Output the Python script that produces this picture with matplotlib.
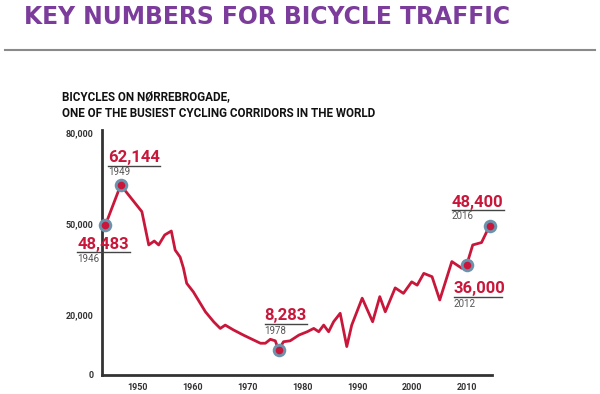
import matplotlib
matplotlib.use("Agg")
import matplotlib.pyplot as plt
import matplotlib.font_manager as fm
from matplotlib.lines import Line2D
from matplotlib.transforms import IdentityTransform

# ---------------- data ----------------
years = [1944.2, 1947.0, 1950.85, 1952.1, 1953.1, 1953.9, 1955.0, 1956.2, 1956.9,
         1957.8, 1958.4, 1959.0, 1960.2, 1961.1, 1962.4, 1963.9, 1965.1, 1966.0,
         1967.5, 1969.3, 1970.9, 1972.4, 1973.3, 1974.2, 1975.1, 1975.7, 1976.6,
         1977.8, 1979.4, 1980.9, 1982.1, 1983.0, 1983.9, 1984.8, 1985.7, 1986.9,
         1988.1, 1989.0, 1990.9, 1992.8, 1994.1, 1995.1, 1996.9, 1998.4, 1999.9,
         2000.9, 2002.1, 2003.6, 2005.0, 2007.2, 2009.0, 2009.9, 2011.0, 2012.6,
         2014.05]
counts = [49500, 62800, 54000, 43000, 44300, 43000, 46300, 47600, 41300,
          39000, 35400, 30300, 27500, 24800, 20900, 17600, 15400, 16500,
          14900, 13200, 11800, 10500, 10500, 11800, 11300, 8300, 11000,
          11300, 13200, 14300, 15400, 14300, 16500, 14300, 17600, 20400,
          9400, 16500, 25400, 17600, 25900, 20900, 28800, 27000, 30800,
          29700, 33600, 32500, 24800, 37500, 35300, 36400, 43000, 43800,
          49300]

# highlighted points: index into the series, value label, year label
hl_index = [0, 1, 25, 51, 54]
hl_value = ["48,483", "62,144", "8,283", "36,000", "48,400"]
hl_year = ["1946", "1949", "1978", "2012", "2016"]

x_ticks = [1950, 1960, 1970, 1980, 1990, 2000, 2010]
x_ticklabels = ["1950", "1960", "1970", "1980", "1990", "2000", "2010"]
y_ticks = [0, 20000, 50000, 80000]
y_ticklabels = ["0", "20,000", "50,000", "80,000"]

title = "KEY NUMBERS FOR BICYCLE TRAFFIC"
subtitle = "BICYCLES ON NØRREBROGADE,\nONE OF THE BUSIEST CYCLING CORRIDORS IN THE WORLD"

# ---------------- fonts ----------------
names = {f.name for f in fm.fontManager.ttflist}
cond = "Liberation Sans Narrow" if "Liberation Sans Narrow" in names else "Roboto"

RED = "#c8173a"
BLUE = "#6c93ab"
PURPLE = "#7b3c9b"

fig = plt.figure(figsize=(6.0, 3.94), dpi=100)
W, H = 600, 394
ax = fig.add_axes([102 / W, 1 - 375 / H, 390 / W, 245 / H])

ax.plot(years, counts, color=RED, lw=2.0, solid_joinstyle="round", zorder=3)
hx = [years[i] for i in hl_index]
hy = [counts[i] for i in hl_index]
ax.scatter(hx, hy, s=95, color=BLUE, zorder=4, clip_on=False, linewidths=0)
ax.scatter(hx, hy, s=30, color=RED, zorder=5, clip_on=False, linewidths=0)

ax.set_xlim(1943.6, 2014.5)
ax.set_ylim(0, 81000)
ax.set_xticks(x_ticks)
ax.set_xticklabels(x_ticklabels)
ax.set_yticks(y_ticks)
ax.set_yticklabels(y_ticklabels)
ax.tick_params(length=0, pad=6, labelsize=6.5, labelcolor="#333333")
for lab in ax.get_xticklabels() + ax.get_yticklabels():
    lab.set_fontfamily([cond, "DejaVu Sans"])
    lab.set_fontweight("bold")
for s in ["top", "right"]:
    ax.spines[s].set_visible(False)
for s in ["left", "bottom"]:
    ax.spines[s].set_color("#333333")
    ax.spines[s].set_linewidth(2.0)
ax.patch.set_alpha(0)

# annotation layout (pixel offsets from the marker, y up)
# (dx_text, dy_baseline, underline_width, dy_underline, dy_year)
layout = [
    (-28, -24, 53, -27, -34),
    (-13, 23, 52, 19, 13),
    (-14, 30, 42, 26, 19),
    (-13, -28, 48, -32, -39),
    (-38, 19, 52, 16, 10),
]
fig.canvas.draw()
for (x, y, v, yr, (dx, dyb, uw, dyu, dyy)) in zip(hx, hy, hl_value, hl_year, layout):
    px, py = ax.transData.transform((x, y))
    fig.text(px + dx, py + dyb, v, transform=IdentityTransform(), color=RED,
             fontsize=12, fontweight="bold", family=[cond, "DejaVu Sans"],
             ha="left", va="baseline")
    fig.add_artist(Line2D([px + dx, px + dx + uw], [py + dyu, py + dyu],
                          transform=IdentityTransform(), color="#444444", lw=1.0))
    fig.text(px + dx, py + dyy, yr, transform=IdentityTransform(), color="#555555",
             fontsize=7, family=[cond, "DejaVu Sans"], ha="left", va="center")

ttl = fig.text(24 / W, 1 - 17 / H, title, color=PURPLE, fontsize=16, fontweight="bold",
               family=["DejaVu Sans"], ha="left", va="center")
# fit the title to the reference width (24 px .. 512 px)
r = fig.canvas.get_renderer()
w = ttl.get_window_extent(r).width
ttl.set_fontsize(16 * 488 / w)
fig.add_artist(Line2D([5 / W, 595 / W], [1 - 49.5 / H, 1 - 49.5 / H],
                      transform=fig.transFigure, color="#8a8a8a", lw=1.5))
fig.text(62 / W, 1 - 105 / H, subtitle, color="#111111", fontsize=8.4,
         fontweight="bold", family=[cond, "DejaVu Sans"], ha="left", va="center",
         linespacing=1.45)

fig.savefig("out.png", dpi=100, facecolor="white")
